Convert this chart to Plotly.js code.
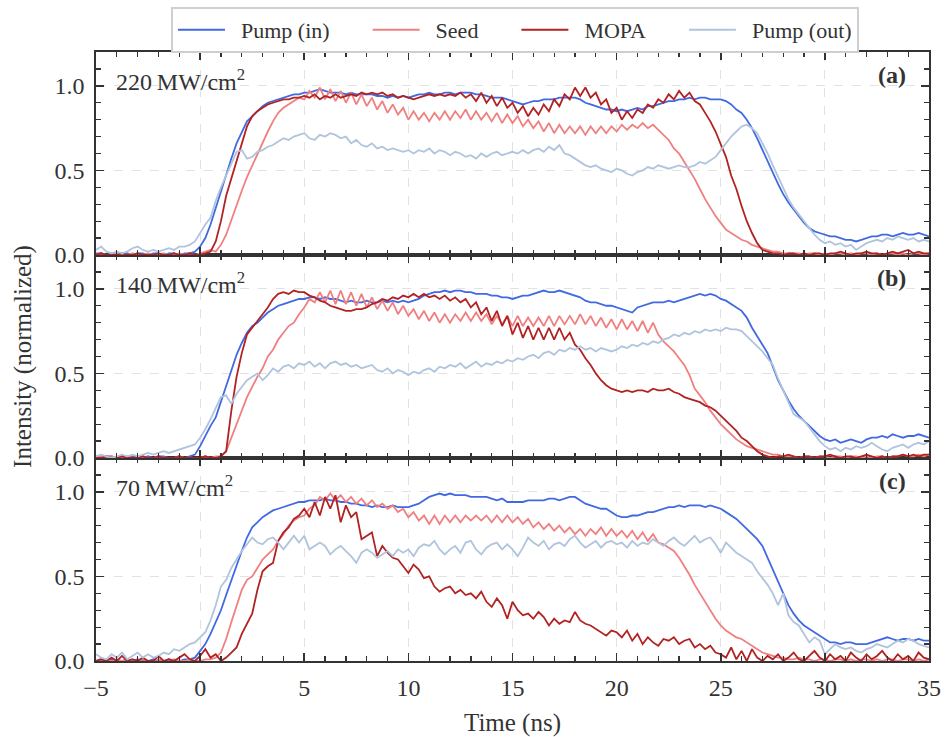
<!DOCTYPE html>
<html><head><meta charset="utf-8">
<script src="https://cdn.plot.ly/plotly-3.0.1.min.js"></script>
<style>html,body{margin:0;padding:0;background:#fff}</style>
</head><body><div id="chart" style="width:945px;height:737px"></div>
<script>
// time grid (ns): -5 .. 35 in 0.25 ns samples
const timeNs = Array.from({length: 161}, (_, i) => -5 + 0.25 * i);

const seriesNames = ['Pump (in)', 'Seed', 'MOPA', 'Pump (out)'];
const panelLabels = ['220\u2009MW/cm<sup>2</sup>', '140\u2009MW/cm<sup>2</sup>', '70\u2009MW/cm<sup>2</sup>'];
const panelTags = ['(a)', '(b)', '(c)'];

// ---- panel (a) 220 MW/cm2 ----
const pumpInA = [
0.01,0.01,0.00,0.01,0.01,0.00,0.01,0.00,0.01,0.01,
0.00,0.01,0.01,0.00,0.01,0.01,0.00,0.01,0.01,0.02,
0.05,0.10,0.18,0.28,0.37,0.47,0.57,0.66,0.73,0.79,
0.82,0.85,0.88,0.90,0.91,0.92,0.93,0.94,0.95,0.95,
0.96,0.96,0.97,0.98,0.97,0.96,0.96,0.96,0.95,0.96,
0.95,0.95,0.95,0.95,0.94,0.94,0.93,0.94,0.93,0.94,
0.93,0.94,0.95,0.95,0.96,0.95,0.95,0.96,0.96,0.95,
0.96,0.96,0.96,0.95,0.95,0.94,0.93,0.93,0.93,0.92,
0.91,0.90,0.89,0.90,0.91,0.91,0.92,0.92,0.92,0.93,
0.93,0.93,0.93,0.92,0.90,0.89,0.88,0.87,0.86,0.86,
0.85,0.86,0.85,0.86,0.87,0.86,0.88,0.88,0.89,0.90,
0.91,0.91,0.92,0.92,0.93,0.92,0.93,0.93,0.92,0.92,
0.92,0.91,0.89,0.86,0.84,0.80,0.75,0.69,0.62,0.55,
0.48,0.42,0.36,0.31,0.27,0.23,0.19,0.16,0.14,0.13,
0.12,0.11,0.11,0.10,0.09,0.09,0.08,0.09,0.10,0.11,
0.11,0.12,0.12,0.11,0.12,0.13,0.12,0.12,0.13,0.12,
0.11];
const seedA = [
0.00,0.01,0.00,0.00,0.01,0.00,0.00,0.01,0.00,0.00,
0.01,0.00,0.00,0.01,0.00,0.00,0.01,0.00,0.01,0.00,
0.01,0.02,0.03,0.02,0.06,0.12,0.21,0.30,0.38,0.46,
0.53,0.60,0.66,0.73,0.79,0.84,0.87,0.89,0.91,0.93,
0.92,0.97,0.93,0.99,0.92,0.98,0.91,0.97,0.90,0.96,
0.89,0.95,0.88,0.93,0.86,0.91,0.84,0.89,0.83,0.87,
0.80,0.85,0.80,0.84,0.79,0.84,0.80,0.85,0.80,0.85,
0.81,0.86,0.80,0.85,0.80,0.84,0.79,0.84,0.78,0.83,
0.78,0.82,0.76,0.80,0.75,0.79,0.73,0.78,0.72,0.77,
0.72,0.76,0.72,0.76,0.71,0.76,0.72,0.76,0.72,0.76,
0.73,0.77,0.74,0.77,0.75,0.78,0.75,0.77,0.74,0.71,
0.68,0.63,0.60,0.55,0.50,0.45,0.39,0.33,0.28,0.23,
0.19,0.15,0.13,0.11,0.09,0.08,0.06,0.05,0.04,0.03,
0.02,0.02,0.01,0.01,0.01,0.01,0.00,0.01,0.01,0.00,
0.01,0.00,0.01,0.01,0.00,0.01,0.00,0.01,0.01,0.00,
0.01,0.00,0.01,0.01,0.00,0.01,0.00,0.01,0.01,0.00,
0.01];
const mopaA = [
0.00,0.01,0.00,0.00,0.00,0.01,0.00,0.00,0.01,0.00,
0.00,0.00,0.01,0.00,0.00,0.01,0.00,0.00,0.01,0.00,
0.00,0.01,0.02,0.08,0.20,0.35,0.45,0.55,0.66,0.76,
0.82,0.85,0.87,0.89,0.90,0.91,0.92,0.92,0.93,0.93,
0.94,0.93,0.95,0.92,0.94,0.93,0.95,0.93,0.94,0.95,
0.94,0.96,0.95,0.96,0.95,0.96,0.94,0.95,0.93,0.94,
0.93,0.92,0.93,0.94,0.95,0.94,0.95,0.94,0.95,0.94,
0.96,0.93,0.95,0.91,0.96,0.90,0.94,0.88,0.93,0.87,
0.90,0.84,0.88,0.82,0.87,0.83,0.89,0.85,0.92,0.88,
0.95,0.92,0.99,0.94,0.99,0.93,0.96,0.89,0.92,0.84,
0.87,0.80,0.85,0.81,0.86,0.84,0.89,0.87,0.92,0.90,
0.95,0.92,0.97,0.93,0.96,0.91,0.89,0.84,0.79,0.73,
0.66,0.58,0.47,0.39,0.29,0.20,0.13,0.07,0.03,0.02,
0.01,0.01,0.00,0.01,0.01,0.00,0.01,0.00,0.01,0.01,
0.00,0.01,0.01,0.02,0.01,0.00,0.01,0.01,0.02,0.01,
0.01,0.00,0.01,0.02,0.01,0.02,0.03,0.01,0.02,0.01,
0.01];
const pumpOutA = [
0.03,0.05,0.02,0.01,0.02,0.01,0.02,0.04,0.05,0.03,
0.02,0.03,0.02,0.03,0.04,0.03,0.05,0.05,0.06,0.08,
0.13,0.18,0.22,0.32,0.40,0.47,0.55,0.61,0.62,0.57,
0.58,0.61,0.62,0.64,0.65,0.67,0.69,0.68,0.70,0.71,
0.72,0.69,0.68,0.71,0.70,0.72,0.71,0.69,0.70,0.66,
0.68,0.65,0.64,0.66,0.63,0.64,0.62,0.63,0.62,0.61,
0.62,0.60,0.62,0.61,0.63,0.60,0.62,0.61,0.59,0.61,
0.60,0.58,0.59,0.57,0.60,0.58,0.60,0.61,0.59,0.60,
0.61,0.60,0.62,0.60,0.62,0.63,0.61,0.64,0.62,0.65,
0.60,0.59,0.57,0.55,0.53,0.52,0.53,0.51,0.50,0.49,
0.51,0.50,0.48,0.47,0.49,0.50,0.52,0.51,0.53,0.52,
0.51,0.52,0.53,0.52,0.52,0.53,0.55,0.54,0.56,0.58,
0.62,0.66,0.70,0.73,0.76,0.77,0.75,0.72,0.66,0.60,
0.53,0.46,0.39,0.33,0.28,0.24,0.20,0.16,0.12,0.09,
0.07,0.08,0.06,0.07,0.05,0.06,0.03,0.05,0.07,0.08,
0.09,0.08,0.10,0.09,0.11,0.10,0.09,0.10,0.08,0.09,
0.08];

// ---- panel (b) 140 MW/cm2 ----
const pumpInB = [
0.01,0.00,0.01,0.01,0.00,0.01,0.00,0.01,0.01,0.00,
0.01,0.00,0.01,0.01,0.00,0.00,0.01,0.00,0.01,0.02,
0.07,0.13,0.19,0.24,0.33,0.42,0.52,0.61,0.68,0.74,
0.78,0.80,0.83,0.86,0.88,0.90,0.91,0.92,0.93,0.94,
0.94,0.95,0.95,0.94,0.95,0.94,0.94,0.93,0.92,0.93,
0.92,0.92,0.93,0.92,0.92,0.93,0.92,0.93,0.92,0.93,
0.92,0.93,0.94,0.96,0.97,0.98,0.98,0.99,0.98,0.99,
0.99,0.98,0.98,0.97,0.97,0.97,0.96,0.96,0.95,0.95,
0.94,0.95,0.96,0.96,0.97,0.98,0.99,0.98,0.98,0.99,
0.98,0.97,0.96,0.95,0.93,0.92,0.92,0.91,0.90,0.90,
0.89,0.88,0.87,0.86,0.89,0.90,0.91,0.92,0.92,0.92,
0.93,0.92,0.93,0.94,0.95,0.96,0.97,0.96,0.97,0.96,
0.94,0.93,0.91,0.89,0.87,0.83,0.77,0.72,0.67,0.62,
0.54,0.46,0.40,0.34,0.29,0.25,0.22,0.19,0.16,0.13,
0.11,0.10,0.11,0.09,0.10,0.11,0.10,0.09,0.11,0.12,
0.12,0.13,0.12,0.14,0.13,0.12,0.13,0.13,0.14,0.13,
0.12];
const seedB = [
0.00,0.01,0.00,0.01,0.00,0.00,0.01,0.00,0.00,0.01,
0.00,0.00,0.01,0.00,0.00,0.00,0.01,0.00,0.00,0.00,
0.00,0.01,0.00,0.01,0.01,0.04,0.12,0.21,0.29,0.36,
0.42,0.48,0.53,0.60,0.64,0.70,0.74,0.78,0.80,0.85,
0.89,0.94,0.92,0.98,0.92,0.99,0.91,0.99,0.91,0.98,
0.90,0.97,0.89,0.95,0.88,0.93,0.87,0.92,0.85,0.90,
0.84,0.88,0.82,0.87,0.81,0.86,0.80,0.85,0.80,0.85,
0.81,0.86,0.81,0.86,0.81,0.85,0.79,0.84,0.79,0.84,
0.78,0.84,0.78,0.83,0.78,0.83,0.78,0.84,0.78,0.84,
0.79,0.84,0.79,0.85,0.79,0.84,0.78,0.83,0.77,0.82,
0.76,0.82,0.76,0.81,0.75,0.81,0.74,0.80,0.73,0.69,
0.66,0.63,0.59,0.55,0.49,0.41,0.37,0.33,0.28,0.24,
0.20,0.17,0.14,0.11,0.09,0.07,0.06,0.05,0.04,0.03,
0.02,0.02,0.01,0.01,0.01,0.00,0.01,0.01,0.00,0.01,
0.01,0.00,0.01,0.01,0.00,0.01,0.01,0.00,0.01,0.00,
0.01,0.01,0.00,0.01,0.01,0.02,0.01,0.01,0.02,0.01,
0.02];
const mopaB = [
0.00,0.00,0.01,0.00,0.00,0.01,0.00,0.00,0.00,0.01,
0.00,0.00,0.01,0.00,0.00,0.00,0.01,0.00,0.00,0.00,
0.00,0.01,0.00,0.00,0.01,0.04,0.28,0.48,0.62,0.73,
0.77,0.81,0.85,0.89,0.94,0.97,0.98,0.97,0.99,0.98,
0.98,0.96,0.95,0.93,0.92,0.90,0.89,0.88,0.87,0.87,
0.88,0.88,0.89,0.91,0.92,0.94,0.93,0.95,0.94,0.96,
0.95,0.97,0.95,0.97,0.95,0.96,0.94,0.96,0.93,0.95,
0.92,0.94,0.89,0.92,0.85,0.89,0.81,0.87,0.78,0.84,
0.73,0.80,0.71,0.78,0.70,0.77,0.70,0.77,0.70,0.77,
0.70,0.74,0.67,0.64,0.59,0.55,0.50,0.46,0.43,0.41,
0.40,0.39,0.40,0.39,0.40,0.40,0.39,0.41,0.40,0.40,
0.41,0.39,0.38,0.36,0.35,0.34,0.33,0.31,0.30,0.28,
0.25,0.22,0.19,0.16,0.12,0.10,0.07,0.04,0.02,0.01,
0.00,0.01,0.01,0.02,0.01,0.00,0.01,0.01,0.00,0.01,
0.01,0.02,0.01,0.00,0.01,0.01,0.00,0.01,0.02,0.01,
0.00,0.01,0.00,0.01,0.01,0.02,0.01,0.02,0.01,0.02,
0.02];
const pumpOutB = [
0.01,0.02,0.01,0.00,0.01,0.02,0.01,0.02,0.01,0.02,
0.03,0.02,0.03,0.04,0.03,0.04,0.05,0.06,0.07,0.08,
0.12,0.17,0.23,0.30,0.36,0.37,0.32,0.38,0.42,0.46,
0.48,0.50,0.46,0.49,0.53,0.51,0.54,0.55,0.53,0.56,
0.55,0.57,0.54,0.56,0.53,0.56,0.57,0.55,0.56,0.54,
0.55,0.53,0.54,0.55,0.52,0.51,0.53,0.50,0.52,0.51,
0.49,0.51,0.50,0.52,0.53,0.51,0.54,0.53,0.55,0.54,
0.56,0.53,0.55,0.57,0.54,0.56,0.55,0.57,0.56,0.58,
0.57,0.59,0.58,0.60,0.61,0.59,0.62,0.63,0.61,0.64,
0.63,0.65,0.64,0.66,0.64,0.65,0.63,0.65,0.64,0.63,
0.64,0.66,0.65,0.67,0.66,0.68,0.67,0.69,0.68,0.70,
0.71,0.73,0.72,0.74,0.73,0.75,0.74,0.76,0.75,0.76,
0.75,0.77,0.76,0.76,0.75,0.72,0.69,0.66,0.63,0.59,
0.55,0.47,0.40,0.33,0.26,0.24,0.22,0.18,0.14,0.10,
0.07,0.05,0.06,0.04,0.06,0.05,0.07,0.06,0.07,0.09,
0.07,0.05,0.04,0.06,0.07,0.08,0.06,0.08,0.09,0.08,
0.10];

// ---- panel (c) 70 MW/cm2 ----
const pumpInC = [
0.00,0.01,0.00,0.01,0.00,0.00,0.01,0.00,0.01,0.00,
0.00,0.01,0.00,0.00,0.01,0.00,0.00,0.01,0.01,0.02,
0.06,0.10,0.16,0.23,0.30,0.39,0.48,0.57,0.65,0.73,
0.79,0.82,0.85,0.87,0.89,0.90,0.91,0.92,0.93,0.94,
0.94,0.95,0.95,0.95,0.96,0.95,0.95,0.94,0.94,0.93,
0.93,0.92,0.92,0.91,0.92,0.91,0.91,0.92,0.91,0.91,
0.91,0.92,0.93,0.95,0.97,0.98,0.99,0.98,0.99,0.98,
0.98,0.98,0.97,0.97,0.97,0.97,0.96,0.95,0.96,0.94,
0.94,0.94,0.94,0.95,0.95,0.95,0.95,0.96,0.96,0.95,
0.96,0.97,0.97,0.95,0.93,0.92,0.91,0.90,0.90,0.88,
0.86,0.85,0.85,0.86,0.86,0.87,0.88,0.88,0.89,0.90,
0.91,0.91,0.92,0.91,0.92,0.92,0.92,0.91,0.92,0.91,
0.90,0.88,0.86,0.84,0.81,0.78,0.75,0.72,0.68,0.61,
0.53,0.46,0.39,0.33,0.28,0.24,0.21,0.19,0.17,0.15,
0.13,0.11,0.11,0.10,0.11,0.11,0.10,0.10,0.10,0.11,
0.12,0.13,0.14,0.13,0.12,0.13,0.13,0.12,0.13,0.12,
0.12];
const seedC = [
0.00,0.01,0.00,0.00,0.01,0.00,0.01,0.00,0.00,0.01,
0.00,0.00,0.01,0.00,0.00,0.01,0.00,0.00,0.01,0.00,
0.00,0.01,0.01,0.02,0.05,0.13,0.23,0.33,0.42,0.48,
0.50,0.55,0.60,0.63,0.66,0.71,0.75,0.80,0.83,0.85,
0.86,0.90,0.92,0.97,0.95,0.99,0.95,0.98,0.94,0.97,
0.93,0.96,0.92,0.95,0.91,0.93,0.90,0.92,0.88,0.90,
0.85,0.88,0.83,0.86,0.81,0.86,0.81,0.86,0.82,0.86,
0.82,0.86,0.83,0.86,0.83,0.86,0.82,0.86,0.82,0.86,
0.82,0.85,0.81,0.84,0.79,0.82,0.78,0.81,0.77,0.80,
0.76,0.79,0.75,0.78,0.74,0.78,0.75,0.79,0.74,0.78,
0.74,0.77,0.73,0.77,0.72,0.76,0.71,0.75,0.70,0.69,
0.67,0.65,0.61,0.56,0.51,0.45,0.40,0.35,0.30,0.25,
0.21,0.18,0.16,0.14,0.13,0.11,0.09,0.07,0.05,0.04,
0.03,0.02,0.02,0.01,0.01,0.02,0.01,0.01,0.00,0.01,
0.01,0.00,0.01,0.01,0.00,0.01,0.00,0.01,0.01,0.00,
0.01,0.00,0.01,0.01,0.00,0.01,0.01,0.00,0.01,0.00,
0.01];
const mopaC = [
0.00,0.01,0.00,0.02,0.00,0.03,0.00,0.01,0.00,0.02,
0.00,0.00,0.03,0.00,0.01,0.00,0.02,0.04,0.01,0.00,
0.03,0.07,0.02,0.04,0.00,0.02,0.05,0.08,0.16,0.22,
0.28,0.42,0.53,0.56,0.58,0.71,0.76,0.79,0.84,0.86,
0.90,0.85,0.94,0.86,0.97,0.90,0.98,0.82,0.92,0.85,
0.88,0.72,0.74,0.76,0.62,0.68,0.64,0.61,0.60,0.56,
0.52,0.57,0.54,0.49,0.50,0.44,0.41,0.43,0.44,0.40,
0.42,0.39,0.40,0.37,0.41,0.35,0.32,0.37,0.33,0.25,
0.35,0.30,0.27,0.28,0.25,0.29,0.26,0.21,0.25,0.22,
0.24,0.23,0.29,0.24,0.22,0.21,0.19,0.17,0.15,0.18,
0.17,0.14,0.18,0.12,0.16,0.10,0.14,0.11,0.09,0.13,
0.12,0.14,0.10,0.12,0.13,0.08,0.10,0.07,0.09,0.05,
0.04,0.02,0.08,0.01,0.06,0.00,0.07,0.02,0.00,0.03,
0.01,0.04,0.00,0.02,0.05,0.01,0.00,0.03,0.06,0.02,
0.00,0.04,0.01,0.03,0.00,0.05,0.02,0.00,0.04,0.01,
0.03,0.06,0.02,0.00,0.04,0.01,0.03,0.00,0.05,0.02,
0.01];
const pumpOutC = [
0.04,0.02,0.01,0.04,0.02,0.05,0.01,0.03,0.05,0.02,
0.04,0.02,0.03,0.05,0.04,0.07,0.06,0.08,0.10,0.11,
0.14,0.17,0.24,0.33,0.44,0.48,0.55,0.60,0.65,0.69,
0.73,0.70,0.69,0.72,0.73,0.70,0.66,0.70,0.74,0.70,
0.74,0.66,0.68,0.70,0.68,0.63,0.66,0.68,0.65,0.62,
0.58,0.64,0.66,0.64,0.61,0.63,0.65,0.62,0.66,0.64,
0.66,0.62,0.67,0.69,0.68,0.71,0.66,0.63,0.66,0.68,
0.64,0.70,0.71,0.66,0.63,0.67,0.69,0.70,0.66,0.69,
0.66,0.62,0.67,0.73,0.70,0.68,0.71,0.66,0.69,0.70,
0.68,0.72,0.74,0.70,0.67,0.69,0.71,0.67,0.70,0.71,
0.69,0.70,0.67,0.71,0.68,0.70,0.69,0.72,0.70,0.68,
0.71,0.73,0.70,0.68,0.71,0.74,0.70,0.72,0.73,0.69,
0.64,0.70,0.67,0.64,0.62,0.60,0.58,0.53,0.49,0.45,
0.40,0.33,0.40,0.27,0.23,0.21,0.16,0.11,0.14,0.12,
0.04,0.07,0.10,0.08,0.07,0.08,0.06,0.05,0.07,0.08,
0.10,0.09,0.08,0.10,0.12,0.11,0.13,0.12,0.10,0.09,
0.08];

const colors = ['#4169e1', '#f08080', '#b22222', '#b0c4de'];
// legend label padding (en spaces) to reproduce the reference legend spacing
const legendLead = '\u2002';
const legendTrail = ['\u2002\u2002\u2002', '\u2002\u2002\u2002', '\u2002\u2002\u2002', ''];
const panels = [
  {data: [pumpInA, seedA, mopaA, pumpOutA], xa: 'x3', ya: 'y3'},
  {data: [pumpInB, seedB, mopaB, pumpOutB], xa: 'x2', ya: 'y2'},
  {data: [pumpInC, seedC, mopaC, pumpOutC], xa: 'x',  ya: 'y'}
];

const traces = [];
const bad = [];
panels.forEach((p, pi) => {
  p.data.forEach((ys, si) => {
    if (ys.length !== timeNs.length) bad.push(pi + '/' + si + ':' + ys.length);
    traces.push({
      x: timeNs, y: ys, type: 'scatter', mode: 'lines',
      name: legendLead + seriesNames[si] + legendTrail[si], legendgroup: seriesNames[si],
      showlegend: pi === 0,
      line: {color: colors[si], width: 1.8},
      xaxis: p.xa, yaxis: p.ya, hoverinfo: 'skip'
    });
  });
});

const FONT = "'Liberation Serif', 'Times New Roman', serif";
const ink = '#333333';
const common = {
  showline: true, linecolor: ink, linewidth: 1.6, mirror: 'allticks',
  ticks: 'inside', ticklen: 8, tickwidth: 1.6, tickcolor: ink,
  showgrid: true, gridcolor: '#e2e2e2', griddash: 'dash', gridwidth: 1.2,
  zeroline: false, tickfont: {family: FONT, size: 24, color: ink},
  ticklabelstandoff: 5
};
const xCommon = Object.assign({}, common, {
  range: [-5, 35], dtick: 5, tick0: 0,
  minor: {dtick: 1, ticks: 'inside', ticklen: 5, tickwidth: 1.3, tickcolor: ink, showgrid: false}
});
const yCommon = Object.assign({}, common, {
  range: [0, 1.2], dtick: 0.5, tick0: 0, tickformat: '.1f',
  minor: {dtick: 0.1, ticks: 'inside', ticklen: 5, tickwidth: 1.3, tickcolor: ink, showgrid: false}
});

const annotations = [];
['y3', 'y2', 'y'].forEach((ya, i) => {
  const xa = ['x3', 'x2', 'x'][i];
  annotations.push({
    xref: xa + ' domain', yref: ya + ' domain', x: 0.022, y: 0.86,
    xanchor: 'left', yanchor: 'middle', showarrow: false,
    text: panelLabels[i], font: {family: FONT, size: 24, color: ink}
  });
  annotations.push({
    xref: xa + ' domain', yref: ya + ' domain', x: 0.975, y: 0.888,
    xanchor: 'right', yanchor: 'middle', showarrow: false,
    text: '<b>' + panelTags[i] + '</b>', font: {family: FONT, size: 24, color: ink}
  });
});

const layout = {
  width: 945, height: 737,
  margin: {l: 96, r: 16, t: 52, b: 76, autoexpand: false},
  paper_bgcolor: '#ffffff', plot_bgcolor: '#ffffff',
  font: {family: FONT, size: 24, color: ink},
  showlegend: true,
  legend: {
    orientation: 'h', x: 0.503, xanchor: 'center', y: 1.074, yanchor: 'top',
    bordercolor: '#cfcfcf', borderwidth: 2, bgcolor: '#ffffff',
    font: {family: FONT, size: 22, color: ink}, itemwidth: 47, traceorder: 'normal'
  },
  xaxis: Object.assign({}, xCommon, {anchor: 'y',
    title: {text: 'Time (ns)', font: {family: FONT, size: 25, color: ink}, standoff: 14}}),
  xaxis2: Object.assign({}, xCommon, {anchor: 'y2', matches: 'x', showticklabels: false}),
  xaxis3: Object.assign({}, xCommon, {anchor: 'y3', matches: 'x', showticklabels: false}),
  yaxis: Object.assign({}, yCommon, {domain: [0, 1/3], anchor: 'x'}),
  yaxis2: Object.assign({}, yCommon, {domain: [1/3, 2/3], anchor: 'x2',
    title: {text: 'Intensity (normalized)', font: {family: FONT, size: 25, color: ink}, standoff: 16}}),
  yaxis3: Object.assign({}, yCommon, {domain: [2/3, 1], anchor: 'x3'}),
  annotations: annotations
};
if (bad.length) layout.title = {text: 'LEN ' + bad.join(' ')};

Plotly.newPlot('chart', traces, layout, {displayModeBar: false, staticPlot: true});
</script>
</body></html>
